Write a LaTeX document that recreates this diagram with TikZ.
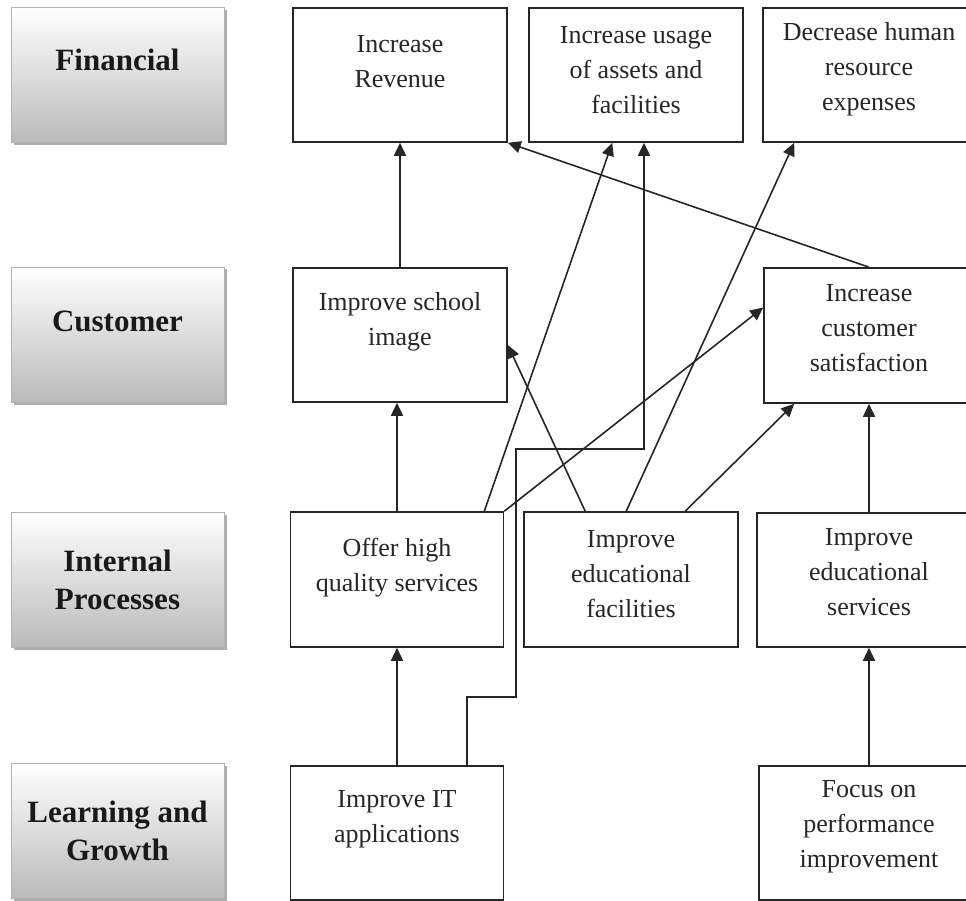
\documentclass[tikz,border=0pt]{standalone}
\usepackage{fontspec}
\setmainfont{Liberation Serif}
\usetikzlibrary{arrows.meta,shadows}

\tikzset{
  persp/.style={draw=black!30, line width=0.8pt, top color=white, bottom color=black!27,
    minimum width=213pt, minimum height=135pt, inner sep=0pt,
    drop shadow={shadow xshift=2.5pt, shadow yshift=-2.5pt, fill=black!45, opacity=.7}},
  persptext/.style={font=\fontsize{31}{38}\selectfont\bfseries, text=black!90, align=center},
  goal/.style={draw=black!85, line width=1.6pt, minimum width=214pt, minimum height=134pt, inner sep=0pt},
  goaltext/.style={font=\fontsize{26}{35}\selectfont, text=black!85, align=center},
  link/.style={draw=black!85, line width=1.6pt, -{Triangle[length=13pt,width=12pt]}}
}

\begin{document}
\begin{tikzpicture}[x=1pt, y=-1pt]
    \useasboundingbox (0,0) rectangle (966,901);

    % Left: the four perspectives
    \node[persp] (fin) at (117.5,75) {};
    \node[persptext] (fin-t) at ([yshift=15pt]fin) {Financial};
    \node[persp] (cust) at (117.5,334.5) {};
    \node[persptext] (cust-t) at ([yshift=13pt]cust) {Customer};
    \node[persp] (proc) at (117.5,579.5) {};
    \node[persptext] (proc-t) at (proc) {Internal\\Processes};
    \node[persp] (learn) at (117.5,830.5) {};
    \node[persptext] (learn-t) at (learn) {Learning and\\Growth};

    % Financial objectives
    \node[goal] (rev) at (400,75) {};
    \node[goaltext] (rev-t) at ([yshift=13pt]rev) {Increase\\Revenue};
    \node[goal] (usage) at (636,75) {};
    \node[goaltext] (usage-t) at ([yshift=5pt]usage) {Increase usage\\of assets and\\facilities};
    \node[goal, minimum width=212pt] (hr) at (869,75) {};
    \node[goaltext] (hr-t) at ([yshift=6pt]hr) {Decrease human\\resource\\expenses};

    % Customer objectives
    \node[goal] (img) at (400,335) {};
    \node[goaltext] (img-t) at ([yshift=13pt]img) {Improve school\\image};
    \node[goal, minimum width=210pt, minimum height=135pt] (sat) at (869,335.5) {};
    \node[goaltext] (sat-t) at ([yshift=7pt]sat) {Increase\\customer\\satisfaction};

    % Internal processes objectives
    \node[goal, minimum width=213pt, minimum height=135pt] (offer) at (397,579.5) {};
    \node[goaltext] (offer-t) at ([yshift=12pt]offer) {Offer high\\quality services};
    \node[goal, minimum height=135pt] (fac) at (631,579.5) {};
    \node[goaltext] (fac-t) at ([yshift=5pt]fac) {Improve\\educational\\facilities};
    \node[goal, minimum width=224pt] (serv) at (869,580) {};
    \node[goaltext] (serv-t) at ([yshift=8pt]serv) {Improve\\educational\\services};

    % Learning and growth objectives
    \node[goal, minimum width=213pt] (it) at (397,833) {};
    \node[goaltext] (it-t) at ([yshift=14pt]it) {Improve IT\\applications};
    \node[goal, minimum width=220pt] (focus) at (869,833) {};
    \node[goaltext] (focus-t) at ([yshift=6pt]focus) {Focus on\\performance\\improvement};

    % Cause and effect links
    \draw[link] (img.north) -- (img.north |- rev.south);
    \draw[link] (offer.north) -- (offer.north |- img.south);
    \draw[link] (it.north) -- (offer.south);
    \draw[link] (serv.north) -- (serv.north |- sat.south);
    \draw[link] (focus.north) -- (serv.south);
    \draw[link] (sat.north) -- (rev.south east);
    \draw[link] ([xshift=-20pt]offer.north east) -- ([xshift=84pt]usage.south west);
    \draw[link] (offer.north east) -- ([yshift=28pt]sat.west);
    \draw[link] ([xshift=62pt]fac.north west) -- ([yshift=-10pt]img.east);
    \draw[link] ([xshift=103pt]fac.north west) -- ([xshift=32pt]hr.south west);
    \draw[link] ([xshift=162pt]fac.north west) -- ([xshift=31pt]sat.south west);
    \draw[link] ([xshift=177pt]it.north west) -- ++(0,-68) -| (516,449) -| ([xshift=8pt]usage.south);
\end{tikzpicture}
\end{document}
